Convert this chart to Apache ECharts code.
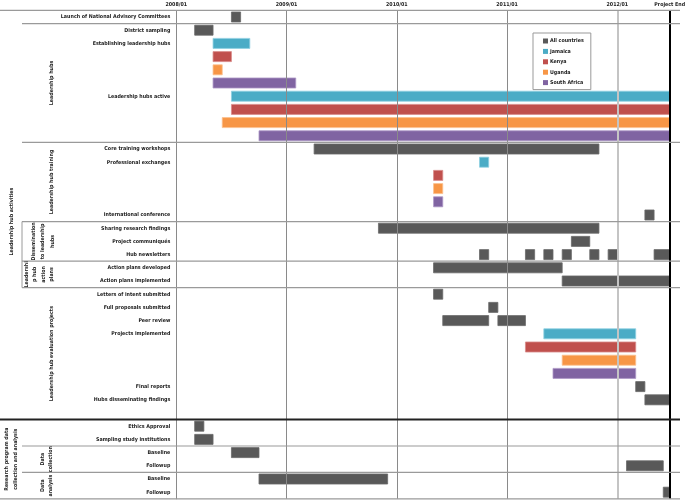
<!DOCTYPE html>
<html>
<head>
<meta charset="utf-8">
<script src="https://cdn.jsdelivr.net/npm/echarts@6/dist/echarts.min.js"></script>
<style>html,body{margin:0;padding:0;background:#fff}#c{width:685px;height:500px}</style>
</head>
<body>
<div id="c"></div>
<script>
// Months counted from 2008/01 (0 = 2008/01)
const PROJECT_END = 53.7;

const rowLabels = [
  'Launch of National Advisory Committees',
  'District sampling',
  'Establishing leadership hubs', '', '', '',
  'Leadership hubs active', '', '', '',
  'Core training workshops',
  'Professional exchanges', '', '', '',
  'International conference',
  'Sharing research findings',
  'Project communiqués',
  'Hub newsletters',
  'Action plans developed',
  'Action plans implemented',
  'Letters of intent submitted',
  'Full proposals submitted',
  'Peer review',
  'Projects implemented', '', '', '',
  'Final reports',
  'Hubs disseminating findings',
  '',
  'Ethics Approval',
  'Sampling study institutions',
  'Baseline',
  'Followup',
  'Baseline',
  'Followup'
];

const xTickValues = [0, 12, 24, 36, 48, PROJECT_END];
const xTickLabels = ['2008/01', '2009/01', '2010/01', '2011/01', '2012/01', 'Project End'];

const seriesNames = ['All countries', 'Jamaica', 'Kenya', 'Uganda', 'South Africa'];

// [row, startMonth, endMonth]
const allCountries = [
  [0, 6, 7], [1, 2, 4], [10, 15, 46], [15, 51, 52], [16, 22, 46], [17, 43, 45],
  [18, 33, 34], [18, 38, 39], [18, 40, 41], [18, 42, 43], [18, 45, 46], [18, 47, 48], [18, 52, PROJECT_END],
  [19, 28, 42], [20, 42, PROJECT_END], [21, 28, 29], [22, 34, 35], [23, 29, 34], [23, 35, 38],
  [28, 50, 51], [29, 51, PROJECT_END], [31, 2, 3], [32, 2, 4], [33, 6, 9], [34, 49, 53],
  [35, 9, 23], [36, 53, PROJECT_END]
];
const jamaica = [[2, 4, 8], [6, 6, PROJECT_END], [11, 33, 34], [24, 40, 50]];
const kenya = [[3, 4, 6], [7, 6, PROJECT_END], [12, 28, 29], [25, 38, 50]];
const uganda = [[4, 4, 5], [8, 5, PROJECT_END], [13, 28, 29], [26, 42, 50]];
const southAfrica = [[5, 4, 13], [9, 9, PROJECT_END], [14, 28, 29], [27, 41, 50]];

// group separators (after row index) and group labels (row ranges)
const sepAfterRows = [0, 9, 15, 18, 20, 32, 34];
const thickSepAfterRow = 30;
const groupLabels = [
  { text: 'Leadership hub activities', from: 1, to: 30 },
  { text: 'Leadership hubs', from: 1, to: 9 },
  { text: 'Leadership hub training', from: 10, to: 15 },
  { text: 'Dissemination\nto leadership\nhubs', from: 16, to: 18 },
  { text: 'Leadershi\np hub\naction\nplans', from: 19, to: 20 },
  { text: 'Leadership hub evaluation projects', from: 21, to: 30 },
  { text: 'Research program data\ncollection and analysis', from: 31, to: 36 },
  { text: 'Data\ncollection', from: 33, to: 34 },
  { text: 'Data\nanalysis', from: 35, to: 36 }
];
const groupLabelX = [12, 52, 52, 43, 39, 52, 11, 47, 47];
const groupLabelLH = [8, 8, 8, 9.3, 8.3, 8, 9, 8, 8];

const FONT = '"Liberation Sans Narrow", "Arial Narrow", "DejaVu Sans Condensed", sans-serif';
const FS = 5.3;
const colors = ['#595959', '#4bacc6', '#c0504d', '#f79646', '#8064a2'];
const strokes = ['#6a6a6a', '#8fd0e2', '#d98c8a', '#fbc08e', '#ad98c6'];

const chart = echarts.init(document.getElementById('c'), null, { renderer: 'canvas' });

function makeRender(idx) {
  return function (params, api) {
    const row = api.value(0);
    const s = api.coord([api.value(1), row]);
    const e = api.coord([api.value(2), row]);
    const h = api.size([0, 1])[1] * 0.76;
    return {
      type: 'rect',
      shape: { x: s[0], y: s[1] - h / 2, width: e[0] - s[0], height: h },
      style: { fill: colors[idx], stroke: strokes[idx], lineWidth: 0.8 }
    };
  };
}

const dataSets = [allCountries, jamaica, kenya, uganda, southAfrica];
const series = dataSets.map((d, i) => ({
  type: 'custom',
  name: seriesNames[i],
  renderItem: makeRender(i),
  itemStyle: { color: colors[i] },
  encode: { x: [1, 2], y: 0 },
  data: d,
  z: 3,
  silent: true
}));

series.push({
  type: 'line',
  data: [],
  silent: true,
  z: 2,
  markLine: {
    silent: true,
    symbol: 'none',
    label: { show: false },
    animation: false,
    data: [
      { xAxis: 12, lineStyle: { color: '#8a8a8a', width: 1, type: 'solid' } },
      { xAxis: 24, lineStyle: { color: '#8a8a8a', width: 1, type: 'solid' } },
      { xAxis: 36, lineStyle: { color: '#8a8a8a', width: 1, type: 'solid' } },
      { xAxis: 48, lineStyle: { color: '#c4c4c4', width: 2, type: 'solid' } },
      { xAxis: PROJECT_END, lineStyle: { color: '#000', width: 2, type: 'solid' } }
    ]
  }
});

chart.setOption({
  animation: false,
  backgroundColor: '#fff',
  grid: { left: 176.3, right: 15.3, top: 10.4, bottom: 1.2, outerBoundsMode: 'none', containLabel: false },
  legend: {
    data: seriesNames,
    orient: 'vertical',
    left: 533,
    top: 33,
    icon: 'rect',
    itemWidth: 5,
    itemHeight: 5,
    itemGap: 2.4,
    padding: [4, 7, 3, 10],
    borderColor: '#999',
    borderWidth: 1,
    backgroundColor: '#fff',
    textStyle: { fontSize: FS, fontWeight: 'bold', fontFamily: FONT, color: '#222', lineHeight: 8, padding: [0, 0, 0, -3] }
  },
  xAxis: {
    type: 'value',
    position: 'top',
    min: 0,
    max: PROJECT_END,
    axisLine: { show: false },
    axisTick: { show: false },
    splitLine: { show: false },
    axisLabel: {
      customValues: xTickValues,
      formatter: v => { const i = xTickValues.findIndex(t => Math.abs(t - v) < 1e-6); return i >= 0 ? xTickLabels[i] : ''; },
      fontSize: FS, fontWeight: 'bold', fontFamily: FONT, color: '#222', margin: 3,
      showMinLabel: true, showMaxLabel: true, hideOverlap: false
    }
  },
  yAxis: {
    type: 'category',
    inverse: true,
    data: rowLabels.map((_, i) => String(i)),
    axisLine: { show: true, lineStyle: { color: '#8a8a8a', width: 1 } },
    axisTick: { show: false },
    splitLine: { show: false },
    axisLabel: {
      interval: 0,
      formatter: (v, i) => rowLabels[i],
      fontSize: FS, fontWeight: 'bold', fontFamily: FONT, color: '#222', margin: 6
    }
  },
  series: series
});

// decorations in the label area, positioned from the category axis
function yOf(r) { return chart.convertToPixel({ yAxisIndex: 0 }, r); }
const pitch = yOf(1) - yOf(0);
const graphics = [];
const topY = yOf(0) - pitch / 2;
const botY = yOf(rowLabels.length - 1) + pitch / 2;
graphics.push({ type: 'line', shape: { x1: 0, y1: topY, x2: 680, y2: topY }, style: { stroke: '#9a9a9a', lineWidth: 1.2 }, z: 10 });
graphics.push({ type: 'line', shape: { x1: 0, y1: botY, x2: 680, y2: botY }, style: { stroke: '#9a9a9a', lineWidth: 1.2 }, z: 10 });
sepAfterRows.forEach(r => {
  const y = (yOf(r) + yOf(r + 1)) / 2;
  graphics.push({ type: 'line', shape: { x1: 22, y1: y, x2: 680, y2: y }, style: { stroke: '#9a9a9a', lineWidth: 1.2 }, z: 10 });
});
{
  const y = (yOf(thickSepAfterRow) + yOf(thickSepAfterRow + 1)) / 2;
  graphics.push({ type: 'line', shape: { x1: 0, y1: y, x2: 680, y2: y }, style: { stroke: '#222', lineWidth: 2 }, z: 10 });
}
{
  const y1 = (yOf(15) + yOf(16)) / 2, y2 = (yOf(20) + yOf(21)) / 2;
  graphics.push({ type: 'line', shape: { x1: 22, y1: y1, x2: 22, y2: y2 }, style: { stroke: '#9a9a9a', lineWidth: 1 }, z: 10 });
}
groupLabels.forEach((g, i) => {
  const yc = (yOf(g.from) + yOf(g.to)) / 2;
  graphics.push({
    type: 'text',
    x: groupLabelX[i],
    y: yc,
    rotation: Math.PI / 2,
    z: 10,
    style: {
      text: g.text,
      align: 'center',
      verticalAlign: 'middle',
      fontSize: FS,
      fontWeight: 'bold',
      fontFamily: FONT,
      lineHeight: groupLabelLH[i],
      fill: '#222'
    }
  });
});
chart.setOption({ graphic: graphics });
</script>
</body>
</html>
